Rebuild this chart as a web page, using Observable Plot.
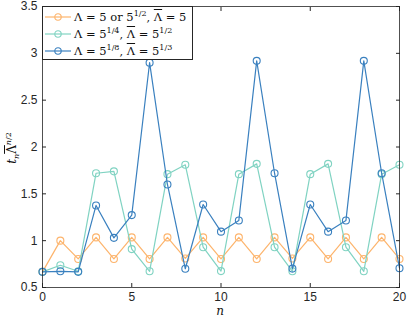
<!DOCTYPE html>
<html><head><meta charset="utf-8">
<script src="https://cdn.jsdelivr.net/npm/d3@7"></script>
<script src="https://cdn.jsdelivr.net/npm/@observablehq/plot@0.6"></script>
<style>
body{margin:0;background:#fff;}
#wrap{position:relative;width:407px;height:321px;overflow:hidden;}
.legend{position:absolute;left:42px;top:6px;width:151px;height:54px;border:1px solid #262626;background:#fff;box-sizing:border-box;font-family:"DejaVu Serif",serif;font-size:11.5px;color:#111;}
.row{position:absolute;left:0;height:17px;display:flex;align-items:center;white-space:nowrap;}
.row svg{margin-left:2px;margin-right:3px;}
sup{font-size:8px;line-height:0;vertical-align:5px;}
sub{font-size:8px;line-height:0;vertical-align:-3px;}
.bar{text-decoration:overline;}
.ylab{position:absolute;left:12px;top:148px;transform:translate(-50%,-50%) rotate(-90deg);font-family:"DejaVu Serif",serif;font-size:12px;color:#111;white-space:nowrap;}
.xlab{position:absolute;left:220px;top:304px;transform:translateX(-50%);font-family:"DejaVu Serif",serif;font-style:italic;font-size:12px;color:#111;}
</style></head>
<body><div id="wrap"></div>
<script>
const n = [0,1,2,3,4,5,6,7,8,9,10,11,12,13,14,15,16,17,18,19,20];
const seriesA = [0.667,1.0,0.805,1.035,0.805,1.035,0.805,1.035,0.81,1.035,0.805,1.035,0.805,1.035,0.81,1.035,0.805,1.035,0.805,1.035,0.805];
const seriesB = [0.667,0.737,0.673,1.72,1.74,0.91,0.673,1.71,1.81,0.93,0.675,1.71,1.82,0.93,0.673,1.71,1.82,0.93,0.673,1.71,1.81];
const seriesC = [0.667,0.673,0.667,1.376,1.03,1.273,2.9,1.6,0.7,1.386,1.096,1.216,2.92,1.72,0.702,1.386,1.096,1.216,2.92,1.72,0.706];
const seriesNames = ["A","B","C"];
const colors = ["#fdb46c","#80d3c2","#3a80bf"];
const xTicks = [0,5,10,15,20];
const yTicks = [0.5,1,1.5,2,2.5,3,3.5];

const data = [];
[seriesA, seriesB, seriesC].forEach((s, k) => s.forEach((v, i) => data.push({n: n[i], v, s: seriesNames[k]})));

const lineMarks = seriesNames.flatMap((name, k) => {
  const d = data.filter(r => r.s === name);
  return [
    Plot.line(d, {x: "n", y: "v", stroke: colors[k], strokeWidth: 1.2}),
    Plot.dot(d, {x: "n", y: "v", stroke: colors[k], strokeWidth: 1.1, r: 3.5, fill: "none"})
  ];
});

const chart = Plot.plot({
  width: 407, height: 321,
  marginLeft: 42, marginRight: 8, marginTop: 6, marginBottom: 34,
  x: {domain: [0, 20]},
  y: {domain: [0.5, 3.5]},
  style: {fontFamily: "'Liberation Sans', Arial, sans-serif", fontSize: "12px", color: "#262626", background: "#fff"},
  marks: [
    Plot.axisX({ticks: xTicks, tickSize: 0, tickPadding: 5, tickFormat: d => String(d), label: null}),
    Plot.axisY({ticks: yTicks, tickSize: 0, tickPadding: 5, tickFormat: d => String(d), label: null}),
    Plot.axisX({ticks: xTicks, tickSize: -4, tickFormat: () => "", label: null, stroke: "#262626"}),
    Plot.axisX({ticks: xTicks, anchor: "top", tickSize: -4, tickFormat: () => "", label: null, stroke: "#262626"}),
    Plot.axisY({ticks: yTicks, tickSize: -4, tickFormat: () => "", label: null, stroke: "#262626"}),
    Plot.axisY({ticks: yTicks, anchor: "right", tickSize: -4, tickFormat: () => "", label: null, stroke: "#262626"}),
    ...lineMarks,
    Plot.frame({stroke: "#262626", strokeWidth: 0.8})
  ]
});
const wrap = document.getElementById("wrap");
wrap.appendChild(chart);

const L = 'Λ', LB = '<span class="bar">Λ</span>';
const legendTexts = [
  `${L} = 5 or 5<sup>1/2</sup>, ${LB} = 5`,
  `${L} = 5<sup>1/4</sup>, ${LB} = 5<sup>1/2</sup>`,
  `${L} = 5<sup>1/8</sup>, ${LB} = 5<sup>1/3</sup>`
];
const leg = document.createElement("div");
leg.className = "legend";
legendTexts.forEach((t, k) => {
  const row = document.createElement("div");
  row.className = "row";
  row.style.top = (1 + k * 17) + "px";
  row.innerHTML = `<svg width="26" height="10"><line x1="0" x2="26" y1="5" y2="5" stroke="${colors[k]}" stroke-width="1.2"/><circle cx="13" cy="5" r="3.2" fill="none" stroke="${colors[k]}" stroke-width="1.1"/></svg><span>${t}</span>`;
  leg.appendChild(row);
});
wrap.appendChild(leg);

const yl = document.createElement("div");
yl.className = "ylab";
yl.innerHTML = '<i>t</i><sub><i>n</i></sub><span class="bar">Λ</span><sup><i>n</i>/2</sup>';
wrap.appendChild(yl);
const xl = document.createElement("div");
xl.className = "xlab";
xl.textContent = "n";
wrap.appendChild(xl);
</script></body></html>
